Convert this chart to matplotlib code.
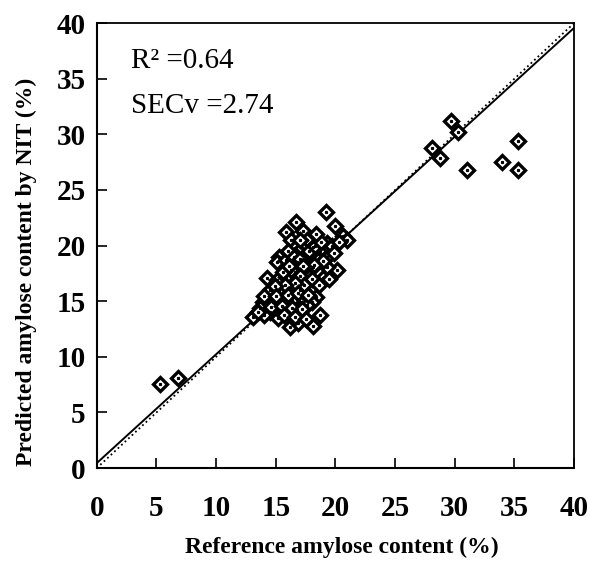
import numpy as np
import matplotlib.pyplot as plt

# reference (x) vs NIT predicted (y) amylose content
ref_outer = [5.3, 6.8, 29.7, 30.3, 28.1, 28.8, 31.0, 35.3, 34.0, 35.3]
pred_outer = [7.6, 8.1, 31.2, 30.2, 28.8, 27.9, 26.8, 29.4, 27.5, 26.8]

ref_edge = [19.2, 16.7, 20.0, 15.9, 17.3, 20.6, 21.0, 16.3, 17.6, 19.3,
            16.6, 18.1, 18.7, 15.3, 17.6, 18.5, 19.3, 20.1, 15.1, 15.9,
            16.8, 19.3, 14.3, 15.1, 15.9, 16.6, 17.6, 18.1, 19.0, 14.5,
            15.3, 16.2, 17.0, 17.9, 18.4, 13.9, 14.8, 15.6, 16.4, 17.3,
            18.0, 13.7, 13.1, 14.5, 15.3, 15.2, 16.0, 16.8, 17.6, 16.2,
            16.9, 18.7, 18.1]
pred_edge = [23.0, 22.1, 21.8, 21.2, 21.3, 20.9, 20.5, 20.5, 20.5, 20.2,
             19.8, 19.9, 19.4, 19.0, 19.1, 18.7, 19.0, 17.8, 18.5, 18.7,
             18.5, 18.1, 17.1, 16.9, 17.2, 17.6, 17.6, 18.1, 17.1, 16.0,
             16.0, 16.2, 16.0, 16.0, 15.4, 14.9, 14.9, 15.1, 15.1, 15.3,
             14.9, 14.4, 13.6, 14.0, 14.2, 13.5, 13.5, 14.2, 14.7, 12.7,
             13.0, 13.8, 12.8]

ref_inner = [16.0, 16.5, 17.0, 17.2, 17.8, 18.3, 18.8, 19.7, 19.0, 18.2,
             17.3, 16.3, 15.6, 17.0, 18.0, 18.6, 19.5, 17.4, 16.6, 15.8,
             14.9, 14.0, 15.0, 16.0, 16.9, 17.7, 14.6, 15.5, 16.4, 17.2,
             15.7, 16.6, 17.5, 14.0, 13.5, 20.3, 19.9, 18.4, 17.0, 16.1]
pred_inner = [19.5, 19.0, 18.8, 19.8, 19.5, 20.0, 20.3, 20.0, 18.6, 18.3,
              18.2, 17.8, 17.6, 17.3, 17.0, 16.5, 17.0, 16.5, 16.6, 16.5,
              16.4, 15.5, 15.5, 15.6, 15.7, 15.6, 14.5, 14.6, 14.4, 14.3,
              13.8, 13.6, 13.4, 13.8, 14.0, 20.3, 19.3, 21.0, 20.5, 18.2]

reference = np.array(ref_outer + ref_edge + ref_inner)
predicted = np.array(pred_outer + pred_edge + pred_inner)

# fitted line and 1:1 line
fit_intercept, fit_slope = 0.45, 0.978
ticks = [0, 5, 10, 15, 20, 25, 30, 35, 40]

serif = ['Liberation Serif', 'DejaVu Serif']

fig = plt.figure(figsize=(5.9, 5.64), dpi=100)
ax = fig.add_axes([0.164, 0.170, 0.809, 0.789])

xx = np.array([0, 40])
ax.plot(xx, xx, color='black', linestyle=':', linewidth=1.3, zorder=2)
ax.plot(xx, fit_intercept + fit_slope * xx, color='black', linewidth=1.4, zorder=2)

ax.plot(reference, predicted, linestyle='none', marker='D', markersize=6.8,
        markerfacecolor='white', markeredgecolor='black', markeredgewidth=2.4,
        zorder=3)
ax.plot(reference, predicted, linestyle='none', marker='s', markersize=1.3,
        color='black', zorder=4)

ax.set_xlim(0, 40)
ax.set_ylim(0, 40)
ax.set_xticks(ticks)
ax.set_yticks(ticks)
ax.tick_params(axis='both', direction='in', length=7, width=1.2)
ax.tick_params(axis='x', pad=19)
ax.tick_params(axis='y', pad=8)
for lab in ax.get_xticklabels() + ax.get_yticklabels():
    lab.set_fontfamily(serif)
    lab.set_fontweight('bold')
    lab.set_fontsize(21)

for side in ['left', 'bottom']:
    ax.spines[side].set_linewidth(1.5)
for side in ['top', 'right']:
    ax.spines[side].set_linewidth(1.3)

ax.set_xlabel('Reference amylose content (%)', fontfamily=serif,
              fontweight='bold', fontsize=17)
ax.set_ylabel('Predicted amylose content by NIT (%)', fontfamily=serif,
              fontweight='bold', fontsize=17)
ax.xaxis.set_label_coords(0.514, -0.155)
ax.yaxis.set_label_coords(-0.125, 0.44)

ax.text(2.9, 36.0, 'R\u00b2 =0.64', fontfamily=serif, fontsize=21,
        va='baseline', ha='left')
ax.text(2.9, 31.9, 'SECv =2.74', fontfamily=serif, fontsize=21,
        va='baseline', ha='left')

fig.savefig('out.png', dpi=100)
